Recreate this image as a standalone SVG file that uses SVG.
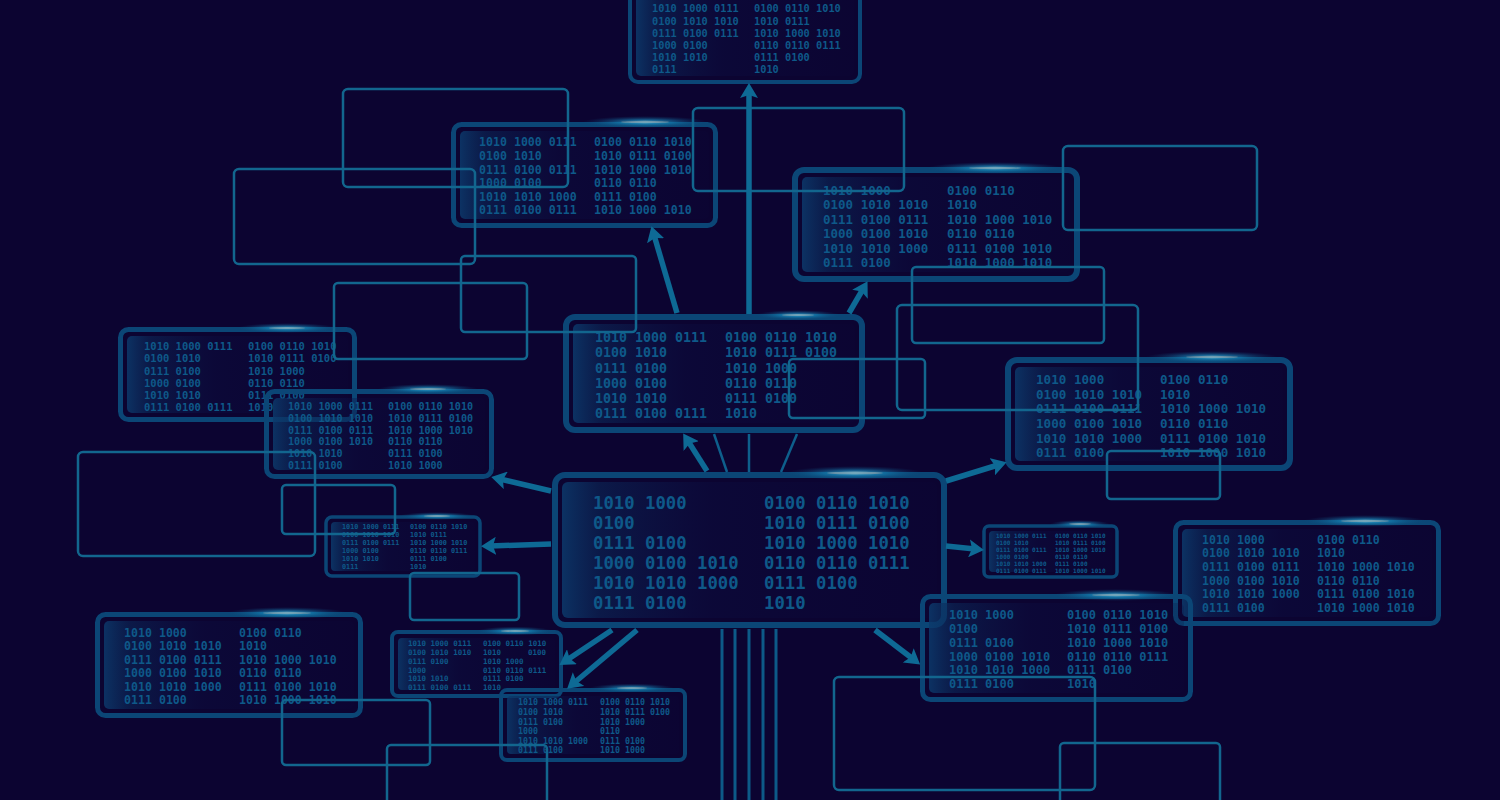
<svg xmlns="http://www.w3.org/2000/svg" width="1500" height="800" viewBox="0 0 1500 800">
<defs>
<style>
.bx{fill:none;stroke:#0b4676}
.pn{fill:url(#panel)}
.t{font-family:"DejaVu Sans Mono","Liberation Mono",monospace;font-weight:bold;fill:#0e5989;dominant-baseline:central}
.thin{fill:none;stroke:#12668e;stroke-width:2.5}
.ar{stroke:#0e6a95;stroke-width:5.5;fill:none;marker-end:url(#head)}
.ln{stroke:#0e5f8c;stroke-width:2.5}
.vl{stroke:#0d5a88;stroke-width:3}
.core{fill:#d9b4a6;opacity:.4}
</style>
<linearGradient id="panel" x1="0" y1="0" x2="1" y2="0">
<stop offset="0" stop-color="#0c3a6c" stop-opacity="0.85"/>
<stop offset="0.1" stop-color="#0b2858" stop-opacity="0.6"/>
<stop offset="0.4" stop-color="#0c1044" stop-opacity="0.35"/>
<stop offset="1" stop-color="#0c0838" stop-opacity="0.2"/>
</linearGradient>
<radialGradient id="glow" cx="0.5" cy="0.5" r="0.5">
<stop offset="0" stop-color="#3ab6e0" stop-opacity="0.9"/>
<stop offset="0.45" stop-color="#1686b8" stop-opacity="0.55"/>
<stop offset="1" stop-color="#0c4a7a" stop-opacity="0"/>
</radialGradient>
<marker id="head" viewBox="0 0 15 18" markerWidth="15" markerHeight="18" refX="6" refY="9" orient="auto" markerUnits="userSpaceOnUse">
<path d="M0,0 L15,9 L0,18 L3,9 Z" fill="#0e6a95"/>
</marker>
</defs>
<rect width="1500" height="800" fill="#0c0431"/>

<g id="node-t">
<rect class="pn" x="636" y="-14" width="218" height="90" rx="5"/>
<rect class="bx" x="630" y="-20" width="230" height="102" rx="8" stroke-width="4"/>
<g class="t" font-size="10.3">
<text x="652" y="8">1010 1000 0111</text><text x="754" y="8">0100 0110 1010</text>
<text x="652" y="20.5">0100 1010 1010</text><text x="754" y="20.5">1010 0111</text>
<text x="652" y="33">0111 0100 0111</text><text x="754" y="33">1010 1000 1010</text>
<text x="652" y="45">1000 0100</text><text x="754" y="45">0110 0110 0111</text>
<text x="652" y="57">1010 1010</text><text x="754" y="57">0111 0100</text>
<text x="652" y="69">0111</text><text x="754" y="69">1010</text>
</g>
</g>

<g id="node-a">
<rect class="pn" x="460" y="131" width="249" height="88" rx="5"/>
<rect class="bx" x="453.5" y="124.5" width="262" height="101" rx="8" stroke-width="5"/>
<ellipse cx="645" cy="122" rx="62" ry="6" fill="url(#glow)"/><ellipse class="core" cx="645" cy="122" rx="24" ry="1.2"/>
<g class="t" font-size="11.6">
<text x="479" y="142">1010 1000 0111</text><text x="594" y="142">0100 0110 1010</text>
<text x="479" y="156">0100 1010</text><text x="594" y="156">1010 0111 0100</text>
<text x="479" y="170">0111 0100 0111</text><text x="594" y="170">1010 1000 1010</text>
<text x="479" y="183">1000 0100</text><text x="594" y="183">0110 0110</text>
<text x="479" y="197">1010 1010 1000</text><text x="594" y="197">0111 0100</text>
<text x="479" y="210">0111 0100 0111</text><text x="594" y="210">1010 1000 1010</text>
</g>
</g>

<g id="node-b">
<rect class="pn" x="802" y="177" width="268" height="95" rx="5"/>
<rect class="bx" x="795" y="170" width="282" height="109" rx="9" stroke-width="6"/>
<ellipse cx="995" cy="168" rx="68" ry="6" fill="url(#glow)"/><ellipse class="core" cx="995" cy="168" rx="26" ry="1.2"/>
<g class="t" font-size="12.5">
<text x="823" y="190">1010 1000</text><text x="947" y="190">0100 0110</text>
<text x="823" y="204">0100 1010 1010</text><text x="947" y="204">1010</text>
<text x="823" y="219">0111 0100 0111</text><text x="947" y="219">1010 1000 1010</text>
<text x="823" y="233">1000 0100 1010</text><text x="947" y="233">0110 0110</text>
<text x="823" y="248">1010 1010 1000</text><text x="947" y="248">0111 0100 1010</text>
<text x="823" y="262">0111 0100</text><text x="947" y="262">1010 1000 1010</text>
</g>
</g>

<g id="node-c">
<rect class="pn" x="573" y="324" width="282" height="99" rx="5"/>
<rect class="bx" x="566" y="317" width="296" height="113" rx="9" stroke-width="6"/>
<ellipse cx="798" cy="315" rx="42" ry="5" fill="url(#glow)"/><ellipse class="core" cx="798" cy="315" rx="16" ry="1.1"/>
<g class="t" font-size="13.3">
<text x="595" y="337">1010 1000 0111</text><text x="725" y="337">0100 0110 1010</text>
<text x="595" y="352">0100 1010</text><text x="725" y="352">1010 0111 0100</text>
<text x="595" y="368">0111 0100</text><text x="725" y="368">1010 1000</text>
<text x="595" y="383">1000 0100</text><text x="725" y="383">0110 0110</text>
<text x="595" y="398">1010 1010</text><text x="725" y="398">0111 0100</text>
<text x="595" y="413">0111 0100 0111</text><text x="725" y="413">1010</text>
</g>
</g>

<g id="node-d">
<rect class="pn" x="562" y="482" width="375" height="136" rx="6"/>
<rect class="bx" x="555" y="475" width="389" height="150" rx="10" stroke-width="6"/>
<ellipse cx="855" cy="473" rx="68" ry="7" fill="url(#glow)"/><ellipse class="core" cx="855" cy="473" rx="28" ry="1.4"/>
<g class="t" font-size="17.3">
<text x="593" y="503">1010 1000</text><text x="764" y="503">0100 0110 1010</text>
<text x="593" y="523">0100</text><text x="764" y="523">1010 0111 0100</text>
<text x="593" y="543">0111 0100</text><text x="764" y="543">1010 1000 1010</text>
<text x="593" y="563">1000 0100 1010</text><text x="764" y="563">0110 0110 0111</text>
<text x="593" y="583">1010 1010 1000</text><text x="764" y="583">0111 0100</text>
<text x="593" y="603">0111 0100</text><text x="764" y="603">1010</text>
</g>
</g>

<g id="node-e">
<rect class="pn" x="127" y="336" width="221" height="77" rx="5"/>
<rect class="bx" x="120.5" y="329.5" width="234" height="90" rx="8" stroke-width="5"/>
<ellipse cx="287" cy="328" rx="50" ry="5" fill="url(#glow)"/><ellipse class="core" cx="287" cy="328" rx="18" ry="1.1"/>
<g class="t" font-size="10.5">
<text x="144" y="346">1010 1000 0111</text><text x="248" y="346">0100 0110 1010</text>
<text x="144" y="358">0100 1010</text><text x="248" y="358">1010 0111 0100</text>
<text x="144" y="371">0111 0100</text><text x="248" y="371">1010 1000</text>
<text x="144" y="383">1000 0100</text><text x="248" y="383">0110 0110</text>
<text x="144" y="395">1010 1010</text><text x="248" y="395">0111 0100</text>
<text x="144" y="407">0111 0100 0111</text><text x="248" y="407">1010</text>
</g>
</g>

<g id="node-f">
<rect class="pn" x="273" y="398" width="212" height="72" rx="5"/>
<rect class="bx" x="266.5" y="391.5" width="225" height="85" rx="8" stroke-width="5"/>
<ellipse cx="428" cy="389" rx="50" ry="5" fill="url(#glow)"/><ellipse class="core" cx="428" cy="389" rx="18" ry="1.1"/>
<g class="t" font-size="10.1">
<text x="288" y="406">1010 1000 0111</text><text x="388" y="406">0100 0110 1010</text>
<text x="288" y="418">0100 1010 1010</text><text x="388" y="418">1010 0111 0100</text>
<text x="288" y="430">0111 0100 0111</text><text x="388" y="430">1010 1000 1010</text>
<text x="288" y="441">1000 0100 1010</text><text x="388" y="441">0110 0110</text>
<text x="288" y="453">1010 1010</text><text x="388" y="453">0111 0100</text>
<text x="288" y="465">0111 0100</text><text x="388" y="465">1010 1000</text>
</g>
</g>

<g id="node-g">
<rect class="pn" x="331" y="522" width="144" height="49" rx="4"/>
<rect class="bx" x="326" y="517" width="154" height="59" rx="6" stroke-width="3.5"/>
<ellipse cx="437" cy="516" rx="38" ry="4" fill="url(#glow)"/><ellipse class="core" cx="437" cy="516" rx="13" ry="1"/>
<g class="t" font-size="6.8">
<text x="342" y="527">1010 1000 0111</text><text x="410" y="527">0100 0110 1010</text>
<text x="342" y="535">0100 1010 1010</text><text x="410" y="535">1010 0111</text>
<text x="342" y="543">0111 0100 0111</text><text x="410" y="543">1010 1000 1010</text>
<text x="342" y="551">1000 0100</text><text x="410" y="551">0110 0110 0111</text>
<text x="342" y="559">1010 1010</text><text x="410" y="559">0111 0100</text>
<text x="342" y="567">0111</text><text x="410" y="567">1010</text>
</g>
</g>

<g id="node-h">
<rect class="pn" x="1015" y="367" width="268" height="94" rx="5"/>
<rect class="bx" x="1008" y="360" width="282" height="108" rx="9" stroke-width="6"/>
<ellipse cx="1212" cy="357" rx="66" ry="6" fill="url(#glow)"/><ellipse class="core" cx="1212" cy="357" rx="26" ry="1.2"/>
<g class="t" font-size="12.6">
<text x="1036" y="379">1010 1000</text><text x="1160" y="379">0100 0110</text>
<text x="1036" y="394">0100 1010 1010</text><text x="1160" y="394">1010</text>
<text x="1036" y="408">0111 0100 0111</text><text x="1160" y="408">1010 1000 1010</text>
<text x="1036" y="423">1000 0100 1010</text><text x="1160" y="423">0110 0110</text>
<text x="1036" y="438">1010 1010 1000</text><text x="1160" y="438">0111 0100 1010</text>
<text x="1036" y="452">0111 0100</text><text x="1160" y="452">1010 1000 1010</text>
</g>
</g>

<g id="node-i">
<rect class="pn" x="989" y="531" width="123" height="41" rx="4"/>
<rect class="bx" x="984" y="526" width="133" height="51" rx="5" stroke-width="3.5"/>
<ellipse cx="1080" cy="524" rx="30" ry="4" fill="url(#glow)"/><ellipse class="core" cx="1080" cy="524" rx="11" ry="0.9"/>
<g class="t" font-size="6">
<text x="996" y="535">1010 1000 0111</text><text x="1055" y="535">0100 0110 1010</text>
<text x="996" y="542">0100 1010</text><text x="1055" y="542">1010 0111 0100</text>
<text x="996" y="549">0111 0100 0111</text><text x="1055" y="549">1010 1000 1010</text>
<text x="996" y="556">1000 0100</text><text x="1055" y="556">0110 0110</text>
<text x="996" y="563">1010 1010 1000</text><text x="1055" y="563">0111 0100</text>
<text x="996" y="570">0111 0100 0111</text><text x="1055" y="570">1010 1000 1010</text>
</g>
</g>

<g id="node-j">
<rect class="pn" x="1182" y="529" width="250" height="88" rx="5"/>
<rect class="bx" x="1175.5" y="522.5" width="263" height="101" rx="8" stroke-width="5"/>
<ellipse cx="1365" cy="521" rx="62" ry="6" fill="url(#glow)"/><ellipse class="core" cx="1365" cy="521" rx="24" ry="1.2"/>
<g class="t" font-size="11.6">
<text x="1202" y="540">1010 1000</text><text x="1317" y="540">0100 0110</text>
<text x="1202" y="553">0100 1010 1010</text><text x="1317" y="553">1010</text>
<text x="1202" y="567">0111 0100 0111</text><text x="1317" y="567">1010 1000 1010</text>
<text x="1202" y="581">1000 0100 1010</text><text x="1317" y="581">0110 0110</text>
<text x="1202" y="594">1010 1010 1000</text><text x="1317" y="594">0111 0100 1010</text>
<text x="1202" y="608">0111 0100</text><text x="1317" y="608">1010 1000 1010</text>
</g>
</g>

<g id="node-k">
<rect class="pn" x="929" y="603" width="255" height="90" rx="5"/>
<rect class="bx" x="922.5" y="596.5" width="268" height="103" rx="8" stroke-width="5"/>
<ellipse cx="1116" cy="595" rx="62" ry="6" fill="url(#glow)"/><ellipse class="core" cx="1116" cy="595" rx="24" ry="1.2"/>
<g class="t" font-size="12">
<text x="949" y="615">1010 1000</text><text x="1067" y="615">0100 0110 1010</text>
<text x="949" y="629">0100</text><text x="1067" y="629">1010 0111 0100</text>
<text x="949" y="643">0111 0100</text><text x="1067" y="643">1010 1000 1010</text>
<text x="949" y="657">1000 0100 1010</text><text x="1067" y="657">0110 0110 0111</text>
<text x="949" y="670">1010 1010 1000</text><text x="1067" y="670">0111 0100</text>
<text x="949" y="684">0111 0100</text><text x="1067" y="684">1010</text>
</g>
</g>

<g id="node-l">
<rect class="pn" x="104" y="621" width="250" height="88" rx="5"/>
<rect class="bx" x="97.5" y="614.5" width="263" height="101" rx="8" stroke-width="5"/>
<ellipse cx="287" cy="613" rx="60" ry="6" fill="url(#glow)"/><ellipse class="core" cx="287" cy="613" rx="24" ry="1.2"/>
<g class="t" font-size="11.6">
<text x="124" y="633">1010 1000</text><text x="239" y="633">0100 0110</text>
<text x="124" y="646">0100 1010 1010</text><text x="239" y="646">1010</text>
<text x="124" y="660">0111 0100 0111</text><text x="239" y="660">1010 1000 1010</text>
<text x="124" y="673">1000 0100 1010</text><text x="239" y="673">0110 0110</text>
<text x="124" y="687">1010 1010 1000</text><text x="239" y="687">0111 0100 1010</text>
<text x="124" y="700">0111 0100</text><text x="239" y="700">1010 1000 1010</text>
</g>
</g>

<g id="node-m">
<rect class="pn" x="398" y="638" width="157" height="52" rx="4"/>
<rect class="bx" x="392" y="632" width="169" height="64" rx="6" stroke-width="4"/>
<ellipse cx="515" cy="631" rx="38" ry="4.5" fill="url(#glow)"/><ellipse class="core" cx="515" cy="631" rx="14" ry="1"/>
<g class="t" font-size="7.5">
<text x="408" y="643">1010 1000 0111</text><text x="483" y="643">0100 0110 1010</text>
<text x="408" y="652">0100 1010 1010</text><text x="483" y="652">1010</text><text x="528" y="652">0100</text>
<text x="408" y="661">0111 0100</text><text x="483" y="661">1010 1000</text>
<text x="408" y="670">1000</text><text x="483" y="670">0110 0110 0111</text>
<text x="408" y="678">1010 1010</text><text x="483" y="678">0111 0100</text>
<text x="408" y="687">0111 0100 0111</text><text x="483" y="687">1010</text>
</g>
</g>

<g id="node-n">
<rect class="pn" x="507" y="696" width="172" height="58" rx="4"/>
<rect class="bx" x="501" y="690" width="184" height="70" rx="6" stroke-width="4"/>
<ellipse cx="632" cy="688" rx="42" ry="4.5" fill="url(#glow)"/><ellipse class="core" cx="632" cy="688" rx="15" ry="1"/>
<g class="t" font-size="8.3">
<text x="518" y="702">1010 1000 0111</text><text x="600" y="702">0100 0110 1010</text>
<text x="518" y="712">0100 1010</text><text x="600" y="712">1010 0111 0100</text>
<text x="518" y="722">0111 0100</text><text x="600" y="722">1010 1000</text>
<text x="518" y="731">1000</text><text x="600" y="731">0110</text>
<text x="518" y="741">1010 1010 1000</text><text x="600" y="741">0111 0100</text>
<text x="518" y="750">0111 0100</text><text x="600" y="750">1010 1000</text>
</g>
</g>

<g id="frames">
<rect id="frame-1" class="thin" x="343" y="89" width="225" height="98" rx="5"/>
<rect id="frame-2" class="thin" x="234" y="169" width="241" height="95" rx="5"/>
<rect id="frame-3" class="thin" x="461" y="256" width="175" height="76" rx="4"/>
<rect id="frame-4" class="thin" x="334" y="283" width="193" height="76" rx="4"/>
<rect id="frame-5" class="thin" x="693" y="108" width="211" height="83" rx="5"/>
<rect id="frame-6" class="thin" x="1063" y="146" width="194" height="84" rx="5"/>
<rect id="frame-7" class="thin" x="912" y="267" width="192" height="76" rx="4"/>
<rect id="frame-8" class="thin" x="897" y="305" width="241" height="105" rx="5"/>
<rect id="frame-9" class="thin" x="789" y="359" width="136" height="59" rx="4"/>
<rect id="frame-10" class="thin" x="78" y="452" width="237" height="104" rx="5"/>
<rect id="frame-11" class="thin" x="282" y="485" width="113" height="49" rx="4"/>
<rect id="frame-12" class="thin" x="410" y="573" width="109" height="47" rx="4"/>
<rect id="frame-13" class="thin" x="282" y="700" width="148" height="65" rx="4"/>
<rect id="frame-14" class="thin" x="387" y="745" width="160" height="80" rx="4"/>
<rect id="frame-15" class="thin" x="834" y="677" width="261" height="113" rx="5"/>
<rect id="frame-16" class="thin" x="1060" y="743" width="160" height="80" rx="4"/>
<rect id="frame-17" class="thin" x="1107" y="451" width="113" height="48" rx="4"/>
</g>

<g id="connectors">
<line class="ar" x1="749" y1="314" x2="749" y2="92"/>
<line class="ar" x1="677" y1="313" x2="654" y2="235"/>
<line class="ar" x1="849" y1="313" x2="863" y2="289"/>
<line class="ar" x1="707" y1="471" x2="688" y2="441"/>
<line class="ln" x1="714" y1="434" x2="727" y2="472"/>
<line class="ln" x1="749" y1="434" x2="749" y2="472"/>
<line class="ln" x1="797" y1="434" x2="781" y2="472"/>
<line class="ar" x1="551" y1="491" x2="500" y2="479"/>
<line class="ar" x1="551" y1="544" x2="490" y2="546"/>
<line class="ar" x1="946" y1="481" x2="998" y2="465"/>
<line class="ar" x1="946" y1="546" x2="975" y2="549"/>
<line class="ar" x1="875" y1="630" x2="913" y2="659"/>
<line class="ar" x1="612" y1="630" x2="567" y2="660"/>
<line class="ar" x1="637" y1="630" x2="574" y2="683"/>
<line class="vl" x1="722" y1="629" x2="722" y2="800"/>
<line class="vl" x1="735" y1="629" x2="735" y2="800"/>
<line class="vl" x1="749" y1="629" x2="749" y2="800"/>
<line class="vl" x1="763" y1="629" x2="763" y2="800"/>
<line class="vl" x1="776" y1="629" x2="776" y2="800"/>
</g>
</svg>
